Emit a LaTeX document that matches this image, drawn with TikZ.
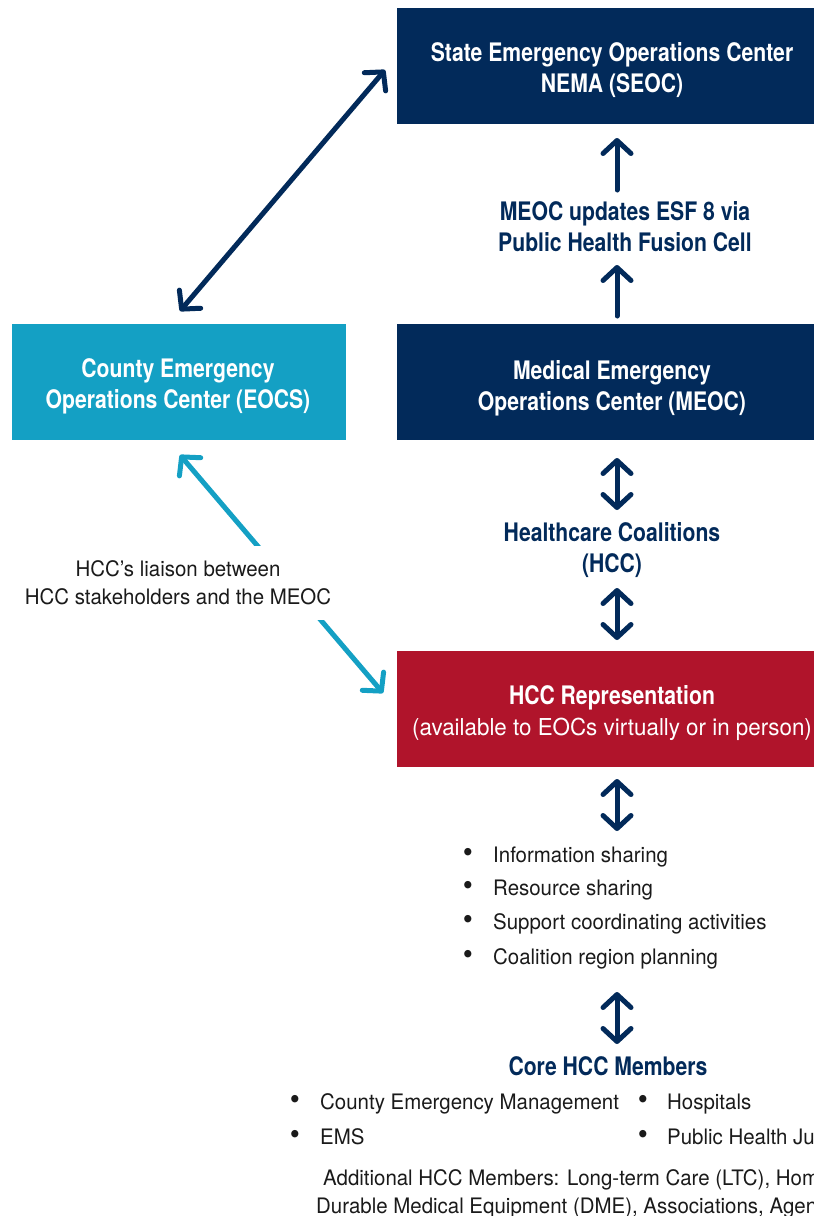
\documentclass[tikz,border=0pt]{standalone}
\usepackage{fontspec}
\setmainfont{TeX Gyre Heros}[FakeStretch=0.96]
\newfontfamily\boldf{TeX Gyre Heros}[FakeStretch=0.83]
\usetikzlibrary{arrows.meta}
\definecolor{navy}{HTML}{022A5A}
\definecolor{lblue}{HTML}{14A0C4}
\definecolor{hred}{HTML}{B0142B}
\definecolor{txt}{HTML}{1A1A1A}
\tikzset{
  box/.style={minimum height=116pt, inner sep=0pt, align=center, text=white, font=\fontsize{25.5}{31}\boldf\bfseries},
  navytext/.style={align=center, text=navy, font=\fontsize{25.5}{31}\boldf\bfseries, inner sep=0pt},
  plain/.style={align=left, text=txt, font=\fontsize{21.3}{28}\selectfont, inner sep=0pt, anchor=base west},
  bul/.style={text=txt, font=\fontsize{30}{28}\selectfont, inner sep=0pt, anchor=base},
  tipa/.style={Straight Barb[round,length=13pt,width=28pt]},
  arr/.style={line width=5pt, draw=navy, line cap=round, {Straight Barb[round,length=13pt,width=28pt]}-{Straight Barb[round,length=13pt,width=28pt]}},
  uarr/.style={line width=5pt, draw=navy, line cap=round, -{Straight Barb[round,length=13pt,width=28pt]}},
  barr/.style={line width=5pt, draw=lblue, line cap=round, {Straight Barb[round,length=13pt,width=28pt]}-{Straight Barb[round,length=13pt,width=28pt]}},
}
\begin{document}
\begin{tikzpicture}[x=1pt,y=-1pt]
\useasboundingbox (0,0) rectangle (814,1216);
\clip (0,0) rectangle (814,1216);
% boxes
\node[box, fill=navy, minimum width=440pt, anchor=north west] (seoc) at (397,8) {};
\node[box, fill=navy, minimum width=440pt, anchor=north west] (meoc) at (397,324) {};
\node[box, fill=lblue, minimum width=334pt, anchor=north west] (eocs) at (12,324) {};
\node[box, fill=hred, minimum width=440pt, anchor=north west] (rep) at (397,651) {};
% box texts
\node[box, minimum height=0pt] (seoct) at (612,70) {State Emergency Operations Center\\NEMA (SEOC)};
\node[box, minimum height=0pt] (meoct) at (612,388) {Medical Emergency\\Operations Center (MEOC)};
\node[box, minimum height=0pt] (eocst) at (178,386) {County Emergency\\Operations Center (EOCS)};
\node[box, minimum height=0pt] (rept) at (612,713) {HCC Representation\\{\fontsize{23.3}{31}\rmfamily\mdseries (available to EOCs virtually or in person)}};
% middle labels
\node[navytext] (esf) at (625,227) {MEOC updates ESF 8 via\\Public Health Fusion Cell};
\node[navytext] (hcc) at (612,550) {Healthcare Coalitions\\(HCC)};
\node[navytext, anchor=base] (core) at (608,1075) {Core HCC Members};
% vertical arrows
\coordinate (a1s) at (617,190); \coordinate (a1e) at (617,138);
\draw[uarr] (a1s) -- (a1e);
\coordinate (a2s) at (617,316); \coordinate (a2e) at (617,265);
\draw[uarr] (a2s) -- (a2e);
\coordinate (a3s) at (617,458); \coordinate (a3e) at (617,510);
\draw[arr] (a3s) -- (a3e);
\coordinate (a4s) at (617,588); \coordinate (a4e) at (617,640);
\draw[arr] (a4s) -- (a4e);
\coordinate (a5s) at (617,779); \coordinate (a5e) at (617,831);
\draw[arr] (a5s) -- (a5e);
\coordinate (a6s) at (617,992); \coordinate (a6e) at (617,1044);
\draw[arr] (a6s) -- (a6e);
% diagonal arrows
\coordinate (d1s) at (180,311); \coordinate (d1e) at (385,70);
\draw[arr] (d1s) -- (d1e);
\coordinate (d2s) at (180,455); \coordinate (d2e) at (383,693);
\draw[barr] (d2s) -- (d2e);
\node[fill=white, align=center, text=txt, font=\fontsize{21.3}{28}\selectfont, inner ysep=0pt, inner xsep=4pt, minimum height=74pt] (liaison) at (178,583) {HCC’s liaison between\\HCC stakeholders and the MEOC};
% bullet list
\foreach \y/\t [count=\i] in {862/Information sharing,895/Resource sharing,929/Support coordinating activities,964/Coalition region planning}{
  \node[bul] (b\i) at (468,\y) {•};
  \node[plain] (t\i) at (493,\y) {\t};
}
% core members
\node[bul] (c1) at (295,1109) {•};
\node[plain] (ct1) at (320,1109) {County Emergency Management};
\node[bul] (c2) at (295,1144) {•};
\node[plain] (ct2) at (320,1144) {EMS};
\node[bul] (c3) at (643,1109) {•};
\node[plain] (ct3) at (667,1109) {Hospitals};
\node[bul] (c4) at (643,1144) {•};
\node[plain] (ct4) at (667,1144) {Public Health Jurisdictions};
\node[plain] (add1) at (323,1185) {Additional HCC Members: Long-term Care (LTC), Home Health};
\node[plain] (add2) at (316,1213) {Durable Medical Equipment (DME), Associations, Agencies};
\end{tikzpicture}
\end{document}
